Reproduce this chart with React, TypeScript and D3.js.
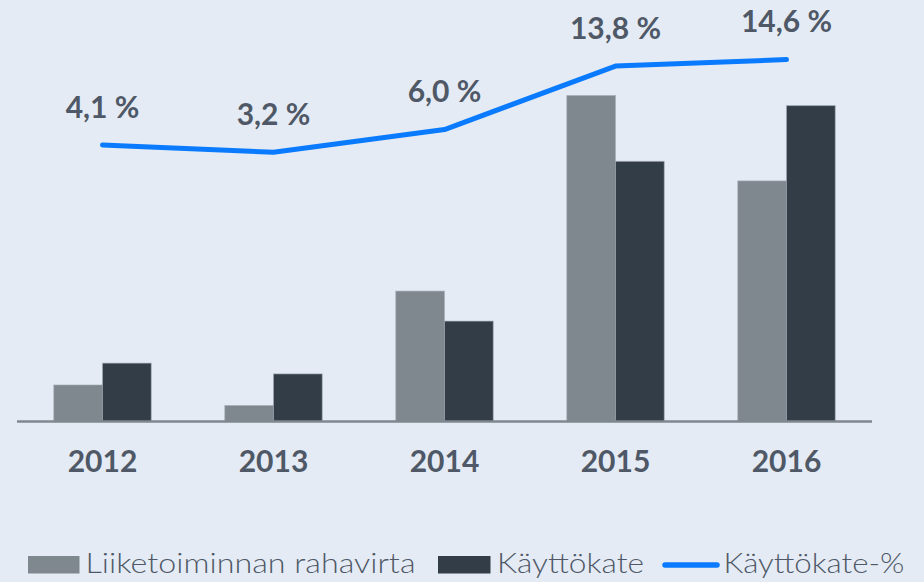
import React from "react";
import * as d3 from "d3";

// years on the x axis
const years = ["2012", "2013", "2014", "2015", "2016"];
// Liiketoiminnan rahavirta (relative units)
const rahavirta = [11.2, 4.9, 40.0, 100, 73.8];
// Käyttökate
const kayttokate = [17.9, 14.6, 30.8, 79.8, 96.9];
// Käyttökate-%
const kayttokatePct = [4.1, 3.2, 6.0, 13.8, 14.6];
const pctLabels = ["4,1 %", "3,2 %", "6,0 %", "13,8 %", "14,6 %"];

const seriesKeys = ["rahavirta", "kayttokate"];
const seriesColors = ["#7f888e", "#323d48"];

const width = 924;
const height = 582;
const textColor = "#4f5866";
const lineColor = "#0a7bff";

export default function App() {
  const baseline = 421.5;
  // outer band for the years
  const x0 = d3
    .scaleBand()
    .domain(years)
    .range([17, 872])
    .paddingInner(0.43)
    .paddingOuter(0.215);
  // inner band for the two bar series
  const x1 = d3.scaleBand().domain(seriesKeys).range([0, x0.bandwidth()]);
  // bar value scale
  const y = d3.scaleLinear().domain([0, 100]).range([baseline, 95.5]);
  // percentage scale for the line
  const yPct = d3.scaleLinear().domain([0, 20]).range([178.4, 15.6]);
  const cx = (yr) => x0(yr) + x0.bandwidth() / 2;

  const line = d3
    .line()
    .x((d, i) => cx(years[i]))
    .y((d) => yPct(d));

  const bars = years.flatMap((yr, i) =>
    [rahavirta[i], kayttokate[i]].map((v, j) => ({
      key: yr + "-" + j,
      x: x0(yr) + x1(seriesKeys[j]),
      y: y(v),
      w: x1.bandwidth(),
      h: baseline - y(v),
      fill: seriesColors[j],
    }))
  );

  const labelFont = "Lato, 'Open Sans', sans-serif";

  return (
    <svg
      width={width}
      height={height}
      style={{ position: "absolute", left: 0, top: 0 }}
    >
      <rect width={width} height={height} fill="#e4ebf5" />
      {bars.map((b) => (
        <rect
          key={b.key}
          x={b.x}
          y={b.y}
          width={b.w}
          height={b.h}
          fill={b.fill}
          stroke="#a3acb5"
          strokeOpacity={0.6}
          strokeWidth={1}
        />
      ))}
      {/* axis line */}
      <line
        x1={17}
        x2={872}
        y1={baseline}
        y2={baseline}
        stroke="#7f888e"
        strokeWidth={2.5}
      />
      {years.map((yr) => (
        <text
          key={yr}
          x={cx(yr)}
          y={472}
          textAnchor="middle"
          fontFamily={labelFont}
          fontWeight={700}
          fontSize={30}
          fill={textColor}
        >
          {yr}
        </text>
      ))}
      <path
        d={line(kayttokatePct)}
        fill="none"
        stroke={lineColor}
        strokeWidth={5}
        strokeLinecap="round"
        strokeLinejoin="round"
      />
      {kayttokatePct.map((v, i) => (
        <text
          key={"p" + i}
          x={cx(years[i])}
          y={yPct(v) - 27.5}
          textAnchor="middle"
          fontFamily={labelFont}
          fontWeight={700}
          fontSize={30}
          fill={textColor}
        >
          {pctLabels[i]}
        </text>
      ))}
      {/* legend */}
      <g fontFamily={labelFont} fontWeight={300} fontSize={28} fill={textColor}>
        <rect x={28} y={556} width={51.5} height={17.5} fill={seriesColors[0]} />
        <text x={85.5} y={573} textLength={330} lengthAdjust="spacingAndGlyphs">
          Liiketoiminnan rahavirta
        </text>
        <rect x={438} y={556} width={52.5} height={17.5} fill={seriesColors[1]} />
        <text x={497} y={573} textLength={147} lengthAdjust="spacingAndGlyphs">
          Käyttökate
        </text>
        <line
          x1={665}
          x2={717}
          y1={565}
          y2={565}
          stroke={lineColor}
          strokeWidth={5.5}
          strokeLinecap="round"
        />
        <text x={723.5} y={573} textLength={181} lengthAdjust="spacingAndGlyphs">
          Käyttökate-%
        </text>
      </g>
    </svg>
  );
}
